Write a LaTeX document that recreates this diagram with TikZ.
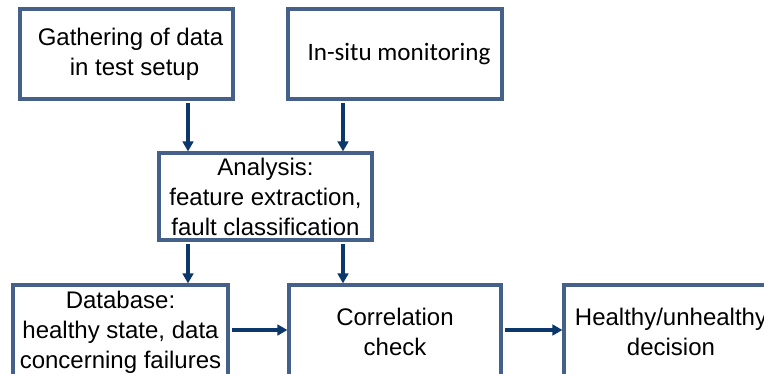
\documentclass[tikz,border=0pt]{standalone}
\usepackage{fontspec}
\setmainfont{Liberation Sans}
\newfontfamily\calib{Carlito}
\usetikzlibrary{arrows.meta}
\definecolor{boxblue}{HTML}{45618A}
\definecolor{arrblue}{HTML}{0B376A}
\tikzset{
  box/.style={draw=boxblue, line width=2.4pt, fill=white, inner sep=0pt,
    align=center, font=\fontsize{18}{22.5}\selectfont, text=black},
  arr/.style={draw=arrblue, line width=2.3pt, -{Triangle[length=7.5pt,width=8pt]}, shorten <=2pt},
}
\begin{document}
\begin{tikzpicture}[x=0.75pt,y=-0.75pt]
\useasboundingbox (0,0) rectangle (764,374);
\clip (0,0) rectangle (764,374);
\fill[white] (0,0) rectangle (764,374);
\node[box, minimum width=213*0.75pt, minimum height=90*0.75pt] (g) at (126.5,54) {\hspace*{6pt}Gathering of data\\\hspace*{12pt}in test setup};
\node[box, minimum width=214*0.75pt, minimum height=90*0.75pt] (s) at (395,54) {\hspace*{6pt}\calib\fontsize{18.8}{22.5}\selectfont In-situ monitoring};
\node[box, minimum width=213*0.75pt, minimum height=87*0.75pt] (an) at (265.5,196.5) {Analysis:\\feature extraction,\\fault classification};
\node[box, minimum width=215*0.75pt, minimum height=94*0.75pt] (db) at (120.5,332) {Database:\\healthy state, data\\concerning failures};
\node[box, minimum width=212*0.75pt, minimum height=94*0.75pt] (cc) at (395,332) {Correlation\\check};
\node[box, minimum width=214*0.75pt, minimum height=94*0.75pt] (hd) at (671,332) {Healthy/unhealthy\\decision};
\coordinate (x1) at (188,0);
\coordinate (x2) at (343,0);
\coordinate (y1) at (0,330);
\draw[arr] (x1 |- g.south) -- (x1 |- an.north);
\draw[arr] (x2 |- s.south) -- (x2 |- an.north);
\draw[arr] (x1 |- an.south) -- (x1 |- db.north);
\draw[arr] (x2 |- an.south) -- (x2 |- cc.north);
\draw[arr] (db.east |- y1) -- (cc.west |- y1);
\draw[arr] (cc.east |- y1) -- (hd.west |- y1);
\end{tikzpicture}
\end{document}
